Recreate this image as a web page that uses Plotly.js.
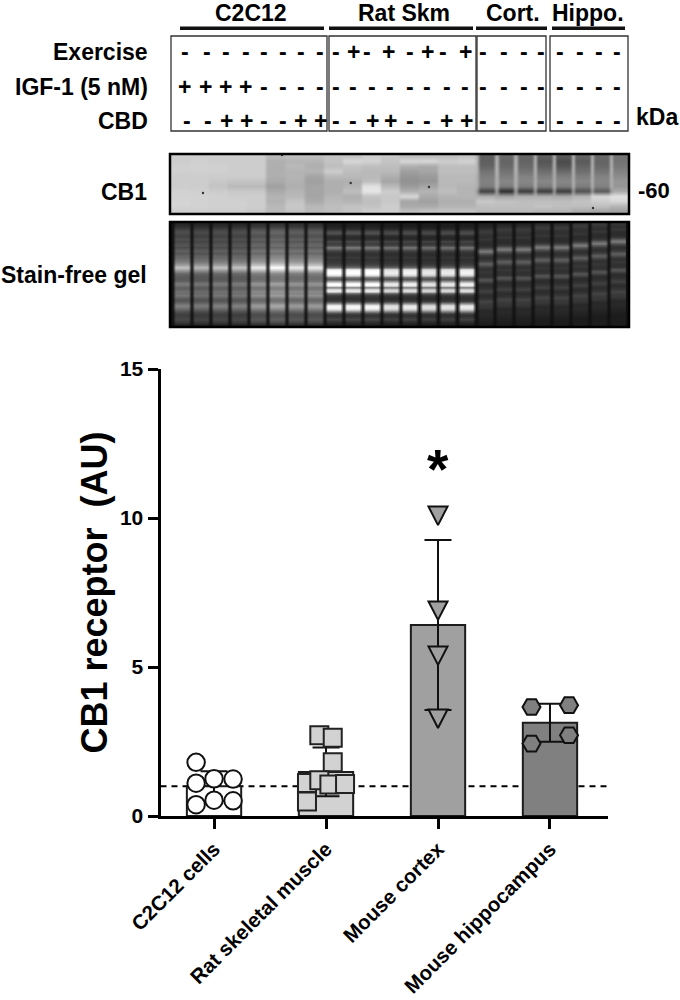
<!DOCTYPE html>
<html><head><meta charset="utf-8">
<script src="https://cdn.plot.ly/plotly-3.0.1.min.js"></script>
<style>html,body{margin:0;padding:0;background:#fff}</style></head>
<body><div id="chart" style="width:680px;height:1000px"></div>
<script>
// ---- bar chart data
const categories = ["C2C12 cells","Rat skeletal muscle","Mouse cortex","Mouse hippocampus"];
const means = [1.0,1.48,6.41,3.13];
const sds = [0.5,0.82,2.85,0.64];
const barColors = ["#ffffff","#d2d2d2","#a0a0a0","#808080"];
const c2c12Values = [1.80,1.10,1.25,1.24,0.38,0.53,0.51];
const c2c12Slots = [-0.16,-0.16,0,0.17,-0.16,0,0.17];
const ratValues = [2.71,2.63,1.80,1.11,0.49,1.2,1.06,1.07];
const ratSlots = [-0.06,0.06,0.06,-0.17,-0.17,-0.06,0.03,0.17];
const cortexValues = [10.08,6.9,5.39,3.27];
const hippoValues = [3.66,3.72,2.43,2.71];
const hippoSlots = [-0.165,0.17,-0.165,0.17];
const yTicks = [0,5,10,15];
const referenceLevel = [1];

// ---- treatment table
const rowLabels = ["Exercise","IGF-1 (5 nM)","CBD"];
const exerciseSigns = "- - - - - - - - - + - + - + - + - - - - - - - -".split(" ");
const igfSigns = "+ + + + - - - - - - - - - - - - - - - - - - - -".split(" ");
const cbdSigns = "- - + + - - + + - - + + - - + + - - - - - - - -".split(" ");
const exerciseX = [185,207,226,246,264,283,301,320,336,353,367,388,410,427,443,465,483,504,524,541,560,580,599,617];
const igfX = [184,205,225,245,264,283,301,320,336,353,372,390,410,427,447,465,483,504,524,541,560,580,599,617];
const cbdX = [187,208,226,246,264,283,300,320,336,353,372,390,410,427,446,466,483,504,524,541,560,580,599,617];
const groupLabels = ["C2C12","Rat Skm","Cort.","Hippo."];

// ---- gel brightness read down one lane, top to bottom
const gelC2C12 = [40,45,55,70,80,80,70,75,85,75,85,90,80,95,100,90,105,110,120,130,150,175,205,175,140,110,100,95,95,105,130,120,100,105,120,115,125,105,90,95,115,135,125,105,85,70,65,70,75,65,50,35];
const gelRat = [30,32,36,50,75,80,50,42,48,75,60,75,125,90,60,50,50,60,50,55,60,75,110,240,255,255,220,110,90,170,255,250,130,225,235,100,60,50,50,70,150,240,250,220,140,70,50,60,70,50,40,28];
const gelBrain = [32,34,40,50,60,55,48,48,55,46,44,46,58,95,125,85,58,48,52,68,95,80,56,48,56,52,48,56,85,72,48,44,48,56,65,52,44,48,56,68,60,56,54,44,40,42,40,38,35,32,30,28];
const gelGainC2C12 = [.95,.9,.95,.95,1.15,1.25,1.15,1.15];
const gelGainRat = [1,1,1,.92,.95,.9,.92,.95];
const gelShiftBrain = [0,1,1,2,2,3,4,5];

// ---- CB1 blot brightness, one row of 24 lanes each
const cb1Lanes = [
[205,205,205,205,205,185,190,190,195,195,205,200,190,190,190,195,95,105,100,95,90,100,105,115],
[205,208,205,205,205,175,180,180,195,215,210,195,215,215,205,210,95,100,100,85,75,90,100,115],
[208,210,208,205,205,175,185,175,190,195,190,190,175,170,190,190,100,105,105,95,85,100,105,120],
[208,208,208,205,205,175,180,180,205,190,185,185,160,165,190,190,115,115,115,110,105,110,115,130],
[205,205,205,205,205,175,180,165,185,185,185,175,150,155,185,185,125,125,130,125,125,125,130,140],
[205,205,200,195,195,170,178,160,175,175,190,165,145,150,185,185,130,135,135,135,135,135,135,150],
[205,205,195,185,185,160,175,165,175,180,225,185,155,165,185,180,125,125,125,125,125,125,130,150],
[210,208,205,200,200,170,180,165,175,190,230,205,175,180,190,180,65,45,60,60,60,80,90,170],
[210,210,208,205,205,180,185,165,180,175,195,200,215,170,180,180,175,165,175,175,170,180,215,225],
[212,210,208,208,205,178,195,170,185,180,190,200,165,160,175,175,200,195,190,190,190,195,205,215],
[212,210,208,208,205,185,200,185,190,195,195,205,170,170,180,180,190,190,190,195,190,190,190,180],
[205,205,205,205,200,185,195,185,190,195,205,205,190,195,195,195,185,185,185,180,180,170,165,160]
];
const cb1GapBrightness = [175,180,180,180,175,175,175,150];

// ---- build the gel tables
const gelZ = gelC2C12.map((_, r) => {
  const row = [];
  const push = (v) => { row.push(16, v, v, v, v, v); };
  gelGainC2C12.forEach(g => push(Math.min(255, gelC2C12[r] * g)));
  gelGainRat.forEach(g => push(Math.min(255, gelRat[r] * g)));
  gelShiftBrain.forEach(s => push(gelBrain[Math.min(gelBrain.length - 1, r + s)]));
  return row;
});
const cb1Z = cb1Lanes.map((lanes, r) => {
  const row = [];
  lanes.forEach((v, k) => {
    const gap = (k >= 16 && r < cb1GapBrightness.length) ? cb1GapBrightness[r] : v;
    row.push(gap, v, v, v, v, v);
  });
  return row;
});
const grayScale = [[0,"#000000"],[1,"#ffffff"]];
const FONT = "Liberation Sans, Arial, sans-serif";

const traces = [
  {type:"heatmap", z:cb1Z, x0:172, dx:3.18, y0:156, dy:5, xaxis:"x2", yaxis:"y2",
   colorscale:grayScale, zmin:0, zmax:255, showscale:false, zsmooth:"best", hoverinfo:"skip"},
  {type:"heatmap", z:gelZ, x0:172.5, dx:3.16, y0:223.3, dy:2, xaxis:"x2", yaxis:"y2",
   colorscale:grayScale, zmin:0, zmax:255, showscale:false, zsmooth:"best", hoverinfo:"skip"},
  {type:"bar", x:[0,1,2,3], y:means, width:0.485,
   marker:{color:barColors, line:{color:"#1c1c1c", width:2}},
   error_y:{type:"data", array:sds, visible:true, color:"#111", thickness:2, width:13.5}, hoverinfo:"skip"},
  {type:"scatter", mode:"markers", cliponaxis:false, x:c2c12Values.map((_,i)=>0+c2c12Slots[i]), y:c2c12Values,
   marker:{symbol:"circle", size:17.5, color:"#ffffff", line:{color:"#111", width:2}}, hoverinfo:"skip"},
  {type:"scatter", mode:"markers", cliponaxis:false, x:ratValues.map((_,i)=>1+ratSlots[i]), y:ratValues,
   marker:{symbol:"square", size:18, color:"#d2d2d2", line:{color:"#222", width:2}}, hoverinfo:"skip"},
  {type:"scatter", mode:"markers", cliponaxis:false, x:cortexValues.map(()=>2), y:cortexValues,
   marker:{symbol:"triangle-down", size:18, color:"#a0a0a0", line:{color:"#111", width:2}}, hoverinfo:"skip"},
  {type:"scatter", mode:"markers", cliponaxis:false, x:hippoValues.map((_,i)=>3+hippoSlots[i]), y:hippoValues,
   marker:{symbol:"hexagon2", size:18, color:"#808080", line:{color:"#111", width:2}}, hoverinfo:"skip"}
];

const bold = (size) => ({family:FONT, size:size, color:"#000", weight:700});
const annotations = [];
const note = (text, x, y, xanchor, size, extra) => annotations.push(Object.assign(
  {text:text, x:x, y:y, xref:"x2", yref:"y2", xanchor:xanchor, yanchor:"middle", showarrow:false, font:bold(size)}, extra||{}));

[251,404,513,588].forEach((x,i)=>note(groupLabels[i], x, 13, "center", 23));
[52,87,121].forEach((y,i)=>note(rowLabels[i], 150, y, "right", 23));
note("kDa", 634, 117, "left", 23);
note("-60", 636, 190, "left", 22);
note("CB1", 149, 192, "right", 23);
note("Stain-free gel", 149, 275, "right", 23);
note("*", 438, 469, "center", 55);
[[exerciseSigns,exerciseX,52],[igfSigns,igfX,87],[cbdSigns,cbdX,121]].forEach(([signs,xs,y])=>{
  signs.forEach((s,i)=>note(s, xs[i], y, "center", 23));
});

const boxStyle = {color:"#333", width:1.3};
const pageRect = (x0,y0,x1,y1,extra) => Object.assign({type:"rect", xref:"x2", yref:"y2", x0,y0,x1,y1}, extra);
const speck = (x,y) => ({type:"circle", xref:"x2", yref:"y2", x0:x-1.2, x1:x+1.2, y0:y-1.2, y1:y+1.2, fillcolor:"#333", line:{width:0}});
const shapes = [
  {type:"line", xref:"x", yref:"y", x0:-0.478, x1:3.518, y0:referenceLevel[0], y1:referenceLevel[0], layer:"below",
   line:{color:"#000", width:2, dash:"6px,5px"}},
  pageRect(180,26.5,324,30,{fillcolor:"#111",line:{width:0}}),
  pageRect(329,26.5,473,30,{fillcolor:"#111",line:{width:0}}),
  pageRect(476,26.5,547,30,{fillcolor:"#111",line:{width:0}}),
  pageRect(552,26.5,625,30,{fillcolor:"#111",line:{width:0}}),
  pageRect(171,36,327,131,{line:boxStyle}),
  pageRect(329,36,476,131,{line:boxStyle}),
  pageRect(477,36,546,131,{line:boxStyle}),
  pageRect(550,36,628,131,{line:boxStyle}),
  pageRect(170,153,629,214,{layer:"below",fillcolor:"#bbbbbb",line:{width:0}}),
  pageRect(170,222,629,327,{layer:"below",fillcolor:"#111111",line:{width:0}}),
  speck(350.7,183), speck(429,187), speck(593,208), speck(203,193), speck(282,155),
  pageRect(170,154,629,214,{line:{color:"#000",width:2.5}}),
  pageRect(170,222,629,327,{line:{color:"#000",width:2.5}})
];

const layout = {
  width:680, height:1000, margin:{l:0,r:0,t:0,b:0,pad:0}, showlegend:false,
  paper_bgcolor:"#fff", plot_bgcolor:"rgba(0,0,0,0)", barmode:"overlay", font:{family:FONT},
  xaxis:{domain:[160.5/680,608/680], range:[-0.478,3.518], tickvals:[0,1,2,3], ticktext:categories,
    tickangle:-45, tickfont:bold(20.5), ticks:"outside", ticklen:10, tickwidth:3, tickcolor:"#000",
    showline:true, linewidth:3, linecolor:"#000", showgrid:false, zeroline:false, anchor:"y", automargin:false},
  yaxis:{domain:[1-816/1000,1-369/1000], range:[0,15], tickvals:yTicks, tickfont:bold(21),
    ticks:"outside", ticklen:10, tickwidth:3, tickcolor:"#000", showline:true, linewidth:3, linecolor:"#000",
    showgrid:false, zeroline:false, anchor:"x", automargin:false,
    title:{text:"CB1 receptor  (AU)", font:bold(36), standoff:2}},
  xaxis2:{domain:[0,1], range:[0,680], visible:false, anchor:"y2", fixedrange:true},
  yaxis2:{domain:[0,1], range:[1000,0], visible:false, anchor:"x2", fixedrange:true},
  annotations, shapes
};
Plotly.newPlot("chart", traces, layout, {staticPlot:true, displayModeBar:false}).then(() => {
  // taller triangles than the library's symbol gives, keeping the library's placement of each point
  const t = document.querySelectorAll(".scatterlayer .trace")[2];
  if (t) t.querySelectorAll("path.point").forEach(p => p.setAttribute("d", "M-9.5,-9H9.5L0,9.5Z"));
});
</script></body></html>
